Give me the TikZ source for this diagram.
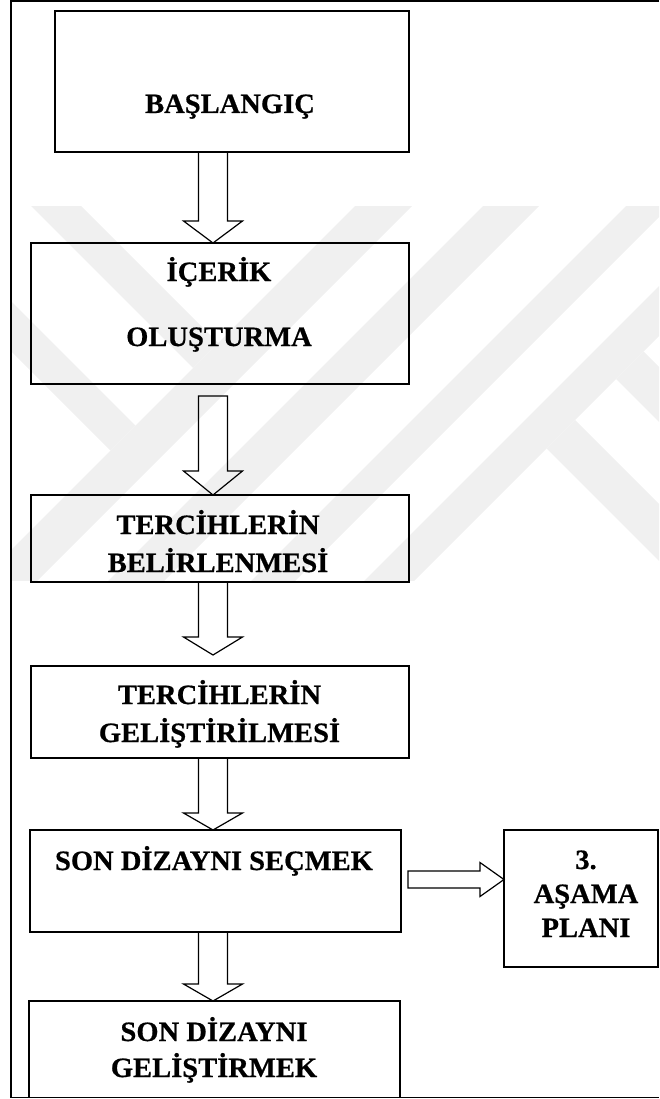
\documentclass[tikz,border=0pt]{standalone}
\usepackage{fontspec}
\setmainfont{Liberation Serif}[FakeStretch=1.02, BoldFeatures={FakeBold=0.6}]
\usetikzlibrary{calc}

\definecolor{wmgray}{gray}{0.94}

\tikzset{
  box/.style={draw, line width=1.6pt, inner sep=0pt, outer sep=0pt},
  txt/.style={anchor=base, align=center, inner sep=0pt, font=\fontsize{28}{36}\selectfont\bfseries},
  fatdown/.style={line width=1.2pt, to path={($(\tikztostart)+(-14.5,0)$) -- ($(\tikztotarget)+(-14.5,-#1)$) -- ($(\tikztotarget)+(-29.5,-#1)$) -- (\tikztotarget) -- ($(\tikztotarget)+(29.5,-#1)$) -- ($(\tikztotarget)+(14.5,-#1)$) -- ($(\tikztostart)+(14.5,0)$) -- cycle}},
  fatright/.style={line width=1.2pt, to path={($(\tikztostart)+(0,-8.5)$) -- ($(\tikztotarget)+(-#1,-8.5)$) -- ($(\tikztotarget)+(-#1,-17)$) -- (\tikztotarget) -- ($(\tikztotarget)+(-#1,17)$) -- ($(\tikztotarget)+(-#1,8.5)$) -- ($(\tikztostart)+(0,8.5)$) -- cycle}}
}

\begin{document}
\begin{tikzpicture}[x=1pt, y=-1pt]
    \useasboundingbox (0,0) rectangle (659,1099);

    % watermark
    \begin{scope}
        \clip (11,207) rectangle (659,580);
        \fill[wmgray] (411,150) -- (468,150) -- (-32,650) -- (-89,650) -- cycle;
        \fill[wmgray] (539,150) -- (595,150) -- (95,650) -- (39,650) -- cycle;
        \fill[wmgray] (682,150) -- (726,150) -- (226,650) -- (182,650) -- cycle;
        \fill[wmgray] (795,150) -- (845,150) -- (345,650) -- (295,650) -- cycle;
        \fill[wmgray] (25,150) -- (218,343) -- (193,368) -- (-25,150) -- cycle;
        \fill[wmgray] (-50,240) -- (135.5,425.5) -- (110.5,450.5) -- (-50,290) -- cycle;
        \fill[wmgray] (575,420) -- (750,595) -- (750,652) -- (546.5,448.5) -- cycle;
        \fill[wmgray] (643.5,351.5) -- (750,458) -- (750,513) -- (616,379) -- cycle;
    \end{scope}

    % frame
    \draw[line width=1.6pt] (659,1) -- (11,1) -- (11,1097.5) -- (659,1097.5);

    \node[box, minimum width=354, minimum height=141] (start) at (232,81.5) {};
    \node[box, minimum width=378, minimum height=141] (content) at (220,313.5) {};
    \node[box, minimum width=378, minimum height=87] (prefs) at (220,538.5) {};
    \node[box, minimum width=378, minimum height=92] (develop) at (220,712) {};
    \node[box, minimum width=371, minimum height=102] (select) at (215.5,881) {};
    \node[box, minimum width=371, minimum height=96.5] (final) at (214.5,1049.25) {};
    \node[box, minimum width=154, minimum height=137] (plan) at (581,898.5) {};

    % text (base = last line)
    \node[txt] (starttext) at (230,113) {BAŞLANGIÇ};
    \node[txt] (contenttext) at (219,346) {İÇERİK\\[29pt]OLUŞTURMA};
    \node[txt] (prefstext) at (218,572) {TERCİHLERİN\\[2pt]BELİRLENMESİ};
    \node[txt] (developtext) at (219.5,742) {TERCİHLERİN\\[2pt]GELİŞTİRİLMESİ};
    \node[txt] (selecttext) at (214,870) {SON DİZAYNI SEÇMEK};
    \node[txt] (finaltext) at (214,1077) {SON DİZAYNI\\GELİŞTİRMEK};
    \node[txt] (plantext) at (586,937) {3.\\[-2pt]AŞAMA\\[-2pt]PLANI};

    \coordinate (ax) at (213,0);
    \coordinate (ry) at (0,879.5);
    \coordinate (s1) at (start.south -| ax);
    \coordinate (t1) at (content.north -| ax);
    \coordinate (s2) at ($(content.south -| ax)+(0,12)$);
    \coordinate (t2) at (prefs.north -| ax);
    \coordinate (s3) at (prefs.south -| ax);
    \coordinate (t3) at ($(develop.north -| ax)+(0,-11)$);
    \coordinate (s4) at (develop.south -| ax);
    \coordinate (t4) at (select.north -| ax);
    \coordinate (s5) at (select.south -| ax);
    \coordinate (t5) at (final.north -| ax);
    \coordinate (s6) at ($(select.east |- ry)+(7,0)$);
    \coordinate (t6) at (plan.west |- ry);

    \draw[fatdown=22] (s1) to (t1);
    \draw[fatdown=24] (s2) to (t2);
    \draw[fatdown=18] (s3) to (t3);
    \draw[fatdown=17] (s4) to (t4);
    \draw[fatdown=17] (s5) to (t5);
    \draw[fatright=24] (s6) to (t6);
\end{tikzpicture}
\end{document}
